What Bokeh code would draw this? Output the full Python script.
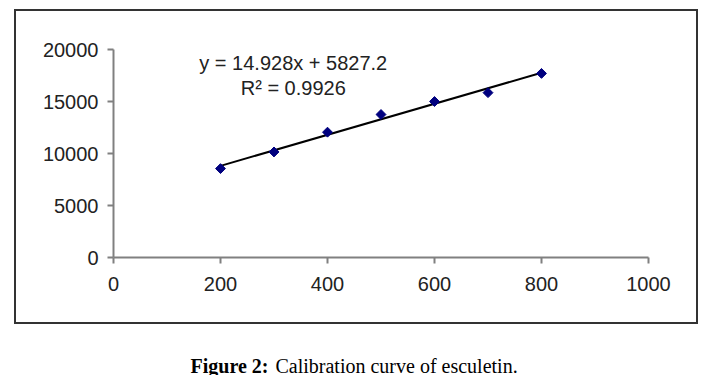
from math import pi
from bokeh.plotting import figure
from bokeh.layouts import column
from bokeh.models import Range1d, FixedTicker, Label, InlineStyleSheet
from bokeh.embed import file_html
from bokeh.resources import INLINE

# data
concentration = [200, 300, 400, 500, 600, 700, 800]
response = [8550, 10150, 12050, 13750, 15000, 15850, 17700]
slope = 14.928
intercept = 5827.2
r_squared = 0.9926
x_ticks = [0, 200, 400, 600, 800, 1000]
y_ticks = [0, 5000, 10000, 15000, 20000]

W, H = 700, 334
p = figure(width=W, height=H, output_backend="svg", toolbar_location=None,
           x_range=Range1d(0, 1000), y_range=Range1d(0, 20000),
           min_border_left=113, min_border_right=W - 648,
           min_border_top=49, min_border_bottom=H - 257)
p.outline_line_color = None
p.xgrid.visible = False
p.ygrid.visible = False

# outer chart-area frame (decorative, drawn by CSS on the figure host)
p.stylesheets = [InlineStyleSheet(css="""
:host { position: relative; }
:host::after {
  content: ""; position: absolute; left: 14px; top: 9px;
  width: 684px; height: 315px; box-sizing: border-box;
  border: 2px solid #333333; pointer-events: none;
}
""")]

for ax in (p.xaxis[0], p.yaxis[0]):
    ax.axis_line_color = "#808080"
    ax.axis_line_width = 2
    ax.major_tick_line_color = "#808080"
    ax.major_tick_line_width = 2
    ax.major_tick_out = 6
    ax.major_tick_in = 0
    ax.minor_tick_line_color = None
    ax.major_label_text_font = "Liberation Sans"
    ax.major_label_text_font_size = "20px"
    ax.major_label_text_color = "#222222"

p.xaxis.ticker = FixedTicker(ticks=x_ticks)
p.yaxis.ticker = FixedTicker(ticks=y_ticks)
p.xaxis.major_label_standoff = 13
p.yaxis.major_label_standoff = 9

# trendline
x0, x1 = min(concentration), max(concentration)
p.line([x0, x1], [slope * x0 + intercept, slope * x1 + intercept],
       line_color="black", line_width=2)

p.scatter(concentration, response, marker="square", angle=pi / 4, size=7,
          fill_color="#00007f", line_color="#00007f")

p.add_layout(Label(x=336, y=18700, text=f"y = {slope}x + {intercept}",
                   text_align="center", text_baseline="middle",
                   text_font="Liberation Sans", text_font_size="20px",
                   text_color="#222222"))
p.add_layout(Label(x=336, y=16300, text=f"R\u00b2 = {r_squared}",
                   text_align="center", text_baseline="middle",
                   text_font="Liberation Sans", text_font_size="20px",
                   text_color="#222222"))

# caption in its own small figure below
CH = 41
cap = figure(width=W, height=CH, output_backend="svg", toolbar_location=None,
             x_range=Range1d(0, W), y_range=Range1d(0, CH),
             x_axis_location=None, y_axis_location=None,
             min_border=0, min_border_left=0, min_border_right=0,
             min_border_top=0, min_border_bottom=0)
cap.outline_line_color = None
cap.xgrid.visible = False
cap.ygrid.visible = False
cap.add_layout(Label(x=190, y=31, x_units="canvas", y_units="canvas",
                     text="Figure 2:", text_font="Liberation Serif",
                     text_font_size="20px", text_font_style="bold",
                     text_color="black", text_baseline="alphabetic"))
cap.add_layout(Label(x=275, y=31, x_units="canvas", y_units="canvas",
                     text="Calibration curve of esculetin.",
                     text_font="Liberation Serif", text_font_size="20px",
                     text_color="black", text_baseline="alphabetic"))

layout = column(p, cap, spacing=0)
open("out.html", "w").write(file_html(layout, INLINE))
